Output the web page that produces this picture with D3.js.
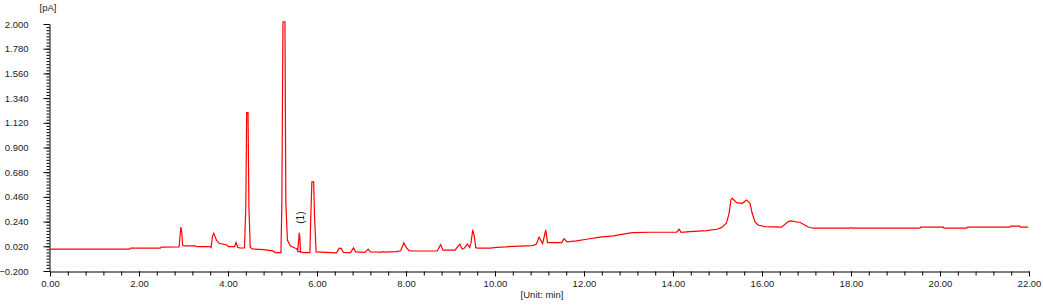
<!DOCTYPE html>
<html>
<head>
<meta charset="utf-8">
<script src="https://cdn.jsdelivr.net/npm/d3@7"></script>
<style>
  body { margin: 0; background: #fff; }
  svg text { font-family: "Liberation Sans", Arial, sans-serif; fill: #222; }
</style>
</head>
<body>
<svg id="svg"></svg>
<script>
// retention time (min) and detector signal (pA)
let rtMin = [
  0.00, 1.79, 1.81, 2.48, 2.50, 2.90, 2.92, 2.94, 2.96, 2.98, 3.02, 3.22, 3.24, 3.27, 3.35, 3.59, 3.62,
  3.65, 3.68, 3.71, 3.74, 3.80, 3.97, 4.01, 4.15, 4.18, 4.22, 4.26, 4.37,
  4.40, 4.42, 4.45, 4.47, 4.50, 4.55, 4.80, 5.01, 5.06, 5.19,
  5.21, 5.235, 5.28, 5.30, 5.335, 5.40, 5.50, 5.54, 5.565, 5.585, 5.60, 5.615, 5.63, 5.70,
  5.84, 5.86, 5.885, 5.925, 5.945, 5.98, 6.44, 6.50, 6.55, 6.59, 6.75, 6.82, 6.87,
  7.08, 7.15, 7.20, 7.45, 7.50, 7.53, 7.78, 7.88, 7.95, 8.01, 8.07, 8.15,
  8.70, 8.78, 8.83, 9.10, 9.21, 9.26, 9.30, 9.38, 9.43, 9.46, 9.50, 9.53, 9.57, 9.62,
  9.89, 10.04, 10.25, 10.40, 10.85, 10.93, 10.99, 11.07, 11.14, 11.18, 11.50, 11.55, 11.62,
  11.83, 12.06, 12.36, 12.66, 12.88, 13.09, 13.11, 13.48, 14.08, 14.14, 14.18, 14.38, 14.75,
  14.98, 15.09, 15.20, 15.26, 15.30, 15.33, 15.43, 15.56, 15.65, 15.73, 15.78, 15.84, 15.91,
  16.06, 16.44, 16.59, 16.66, 16.81, 16.85, 16.96, 17.04, 17.15, 17.97, 18.00, 18.03,
  19.55, 19.57, 20.07, 20.09, 20.60, 20.62, 21.57, 21.59, 21.79, 21.81, 21.98
];
let signalPA = [
  -0.006, -0.006, 0.003, 0.003, 0.012, 0.014, 0.100, 0.192, 0.150, 0.030, 0.023, 0.023, 0.028, 0.020, 0.017, 0.017, 0.008,
  0.106, 0.136, 0.106, 0.075, 0.047, 0.032, 0.017, 0.017, 0.053, 0.012, 0.005, 0.005,
  0.370, 1.210, 1.210, 0.370, 0.010, -0.004, -0.010, -0.021, -0.036, -0.036,
  0.390, 2.020, 2.020, 0.400, 0.075, 0.025, 0.005, 0.000, -0.020, 0.050, 0.140, 0.100, -0.030, -0.036,
  -0.036, 0.280, 0.593, 0.593, 0.280, -0.030, -0.038, 0.003, 0.000, -0.035, -0.036, 0.006, -0.030,
  -0.034, -0.005, -0.030, -0.032, -0.028, -0.032, -0.027, -0.020, 0.050, 0.008, -0.019, -0.022,
  -0.022, 0.035, -0.014, -0.014, 0.040, -0.004, 0.000, 0.040, 0.010, 0.050, 0.166, 0.120, 0.008, 0.003,
  0.003, 0.011, 0.015, 0.020, 0.026, 0.040, 0.102, 0.044, 0.166, 0.053, 0.053, 0.088, 0.059,
  0.068, 0.083, 0.102, 0.113, 0.128, 0.142, 0.142, 0.145, 0.145, 0.172, 0.145, 0.150, 0.159,
  0.172, 0.186, 0.225, 0.314, 0.433, 0.448, 0.409, 0.403, 0.433, 0.403, 0.314, 0.240, 0.210,
  0.195, 0.190, 0.240, 0.246, 0.234, 0.234, 0.210, 0.192, 0.181, 0.181, 0.186, 0.181,
  0.181, 0.190, 0.190, 0.181, 0.181, 0.190, 0.190, 0.199, 0.199, 0.190, 0.190
];

let xTicks = [0, 2, 4, 6, 8, 10, 12, 14, 16, 18, 20, 22];
let yTicks = [-0.2, 0.02, 0.24, 0.46, 0.68, 0.9, 1.12, 1.34, 1.56, 1.78, 2.0];

let peakLabels = [{ rt: 5.60, pA: 0.142, name: "(1)" }];
let peakBaselines = [{ from: 5.575, to: 5.635, pA: -0.028 }];

function sketch() {
    let svg = d3.select("#svg")
        .attr("width", 1043)
        .attr("height", 306);

    let x = d3.scaleLinear().domain([0, 22]).range([50, 1029]);
    let y = d3.scaleLinear().domain([-0.2, 2.0]).range([271, 24]);

    let axisColor = "#000";
    let lineColor = "#ff0000";

    // minor ticks first, then the labelled axes on top
    let xMinor = d3.range(0, 22.0001, 0.4);
    let yMinor = d3.range(0, 81).map((i) => -0.2 + i * 0.0275);

    svg.append("g")
        .attr("transform", "translate(0,271.5)")
        .call(d3.axisBottom(x).tickValues(xMinor).tickSize(4).tickSizeOuter(0).tickFormat(""))
        .call((g) => g.select(".domain").remove());

    svg.append("g")
        .attr("transform", "translate(49.5,0)")
        .call(d3.axisLeft(y).tickValues(yMinor).tickSize(3).tickSizeOuter(0).tickFormat(""))
        .call((g) => g.select(".domain").remove());

    let xAxis = svg.append("g")
        .attr("transform", "translate(0,271.5)")
        .call(d3.axisBottom(x).tickValues(xTicks).tickSize(5).tickSizeOuter(0)
              .tickFormat(d3.format(".2f")).tickPadding(4));

    let yAxis = svg.append("g")
        .attr("transform", "translate(49.5,0)")
        .call(d3.axisLeft(y).tickValues(yTicks).tickSize(6).tickSizeOuter(0)
              .tickFormat(d3.format(".3f")).tickPadding(15));

    [xAxis, yAxis].forEach((g) => {
        g.selectAll("path, line").attr("stroke", axisColor);
        g.selectAll("text")
            .style("font-size", "9.5px")
            .attr("fill", "#222");
    });
    svg.selectAll("g line").attr("stroke", axisColor);

    svg.append("text")
        .attr("x", 48)
        .attr("y", 11)
        .attr("text-anchor", "middle")
        .style("font-size", "9.5px")
        .text("[pA]");

    svg.append("text")
        .attr("x", 542)
        .attr("y", 298)
        .attr("text-anchor", "middle")
        .style("font-size", "9.5px")
        .text("[Unit: min]");

    let pts = rtMin.map((t, i) => [t, signalPA[i]]);

    let line = d3.line()
        .x((d) => x(d[0]))
        .y((d) => y(d[1]));

    svg.append("path")
        .datum(pts)
        .attr("d", line)
        .attr("fill", "none")
        .attr("stroke", lineColor)
        .attr("stroke-width", 1.2)
        .attr("stroke-linejoin", "miter");

    svg.selectAll("line.pbase")
        .data(peakBaselines)
        .enter()
        .append("line")
        .attr("class", "pbase")
        .attr("x1", (d) => x(d.from))
        .attr("x2", (d) => x(d.to))
        .attr("y1", (d) => y(d.pA))
        .attr("y2", (d) => y(d.pA))
        .attr("stroke", "#0000ff")
        .attr("stroke-width", 1);

    svg.selectAll("text.peak")
        .data(peakLabels)
        .enter()
        .append("text")
        .attr("class", "peak")
        .attr("transform", (d) => "translate(" + (x(d.rt) + 5) + "," + (y(d.pA) - 15) + ") rotate(-90)")
        .attr("text-anchor", "middle")
        .style("font-size", "10px")
        .text((d) => d.name);
}

sketch();
</script>
</body>
</html>
